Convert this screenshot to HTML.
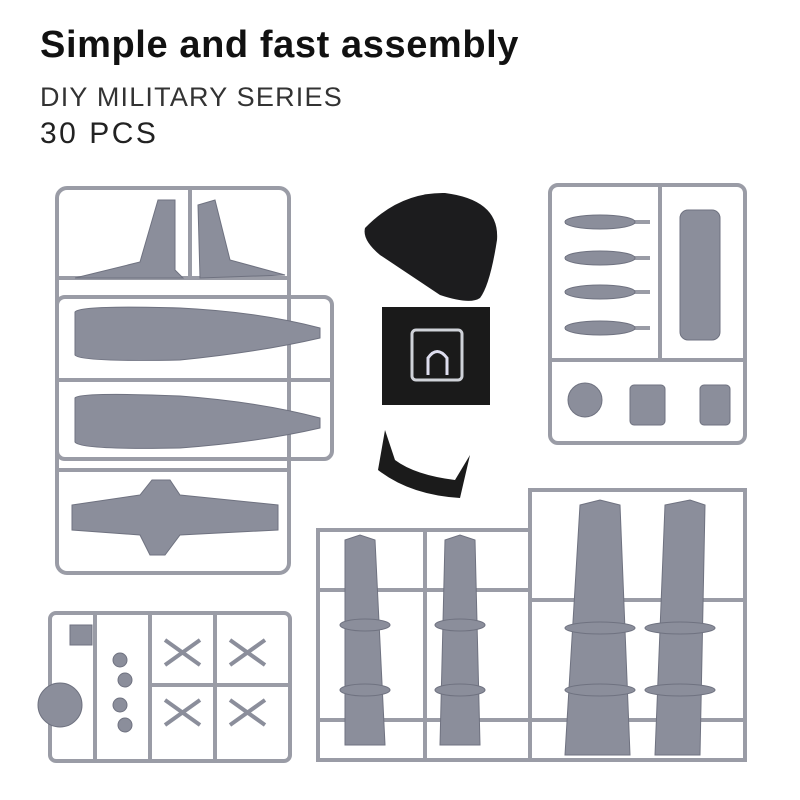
<!DOCTYPE html>
<html><head><meta charset="utf-8"><style>
body{margin:0;background:#fff;width:800px;height:800px;overflow:hidden;position:relative;font-family:"Liberation Sans",sans-serif}
.t1{position:absolute;left:40px;top:24px;font-size:38px;font-weight:bold;color:#111;letter-spacing:0.6px}
.t2{position:absolute;left:40px;top:82px;font-size:27px;color:#333;letter-spacing:1.2px}
.t3{position:absolute;left:40px;top:117px;font-size:30px;color:#222;letter-spacing:2.5px}
svg{position:absolute;left:0;top:0}
</style></head><body>
<div class="t1">Simple and fast assembly</div>
<div class="t2">DIY MILITARY SERIES</div>
<div class="t3">30 PCS</div>
<svg width="800" height="800" viewBox="0 0 800 800">
<g fill="none" stroke="#9a9ca6" stroke-width="4">
<rect x="57" y="188" width="232" height="385" rx="10"/>
<rect x="57" y="297" width="275" height="162" rx="8"/>
<line x1="57" y1="380" x2="330" y2="380"/>
<line x1="57" y1="278" x2="289" y2="278"/>
<line x1="57" y1="470" x2="289" y2="470"/>
<line x1="190" y1="188" x2="190" y2="278"/>
<rect x="550" y="185" width="195" height="258" rx="8"/>
<line x1="550" y1="360" x2="745" y2="360"/>
<line x1="660" y1="185" x2="660" y2="360"/>
<line x1="565" y1="222" x2="650" y2="222"/><line x1="565" y1="258" x2="650" y2="258"/>
<line x1="565" y1="292" x2="650" y2="292"/><line x1="565" y1="328" x2="650" y2="328"/>
<rect x="50" y="613" width="240" height="148" rx="6"/>
<line x1="150" y1="613" x2="150" y2="761"/><line x1="215" y1="613" x2="215" y2="761"/>
<line x1="95" y1="613" x2="95" y2="761"/><line x1="150" y1="685" x2="290" y2="685"/>
<path d="M318 530 H530 V490 H745 V760 H318 Z"/>
<line x1="425" y1="530" x2="425" y2="760"/><line x1="530" y1="490" x2="530" y2="760"/>
<line x1="318" y1="590" x2="530" y2="590"/><line x1="530" y1="600" x2="745" y2="600"/>
<line x1="318" y1="720" x2="745" y2="720"/>
</g>
<g fill="#8b8e9b" stroke="#6f7280" stroke-width="1">
<path d="M75 278 L140 262 L158 200 L175 200 L175 270 L183 278 Z"/>
<path d="M198 205 L215 200 L230 260 L285 275 L200 278 Z"/>
<path d="M75 312 Q80 305 180 308 Q260 312 320 328 L320 338 Q260 352 180 360 Q80 362 75 355 Z"/>
<path d="M75 398 Q80 392 180 396 Q260 402 320 418 L320 428 Q260 442 180 448 Q80 450 75 442 Z"/>
<path d="M72 505 L140 495 L152 480 L170 480 L180 495 L278 505 L278 530 L180 535 L165 555 L150 555 L140 535 L72 530 Z"/>
<ellipse cx="600" cy="222" rx="35" ry="7"/><ellipse cx="600" cy="258" rx="35" ry="7"/>
<ellipse cx="600" cy="292" rx="35" ry="7"/><ellipse cx="600" cy="328" rx="35" ry="7"/>
<rect x="680" y="210" width="40" height="130" rx="8"/>
<circle cx="585" cy="400" r="17"/>
<rect x="630" y="385" width="35" height="40" rx="4"/><rect x="700" y="385" width="30" height="40" rx="4"/>
<path d="M345 540 L360 535 L375 540 L385 745 L345 745 Z"/>
<path d="M445 540 L460 535 L475 540 L480 745 L440 745 Z"/>
<path d="M580 505 L600 500 L620 505 L630 755 L565 755 Z"/>
<path d="M665 505 L690 500 L705 505 L700 755 L655 755 Z"/>
<ellipse cx="365" cy="625" rx="25" ry="6"/><ellipse cx="365" cy="690" rx="25" ry="6"/>
<ellipse cx="460" cy="625" rx="25" ry="6"/><ellipse cx="460" cy="690" rx="25" ry="6"/>
<ellipse cx="600" cy="628" rx="35" ry="6"/><ellipse cx="600" cy="690" rx="35" ry="6"/>
<ellipse cx="680" cy="628" rx="35" ry="6"/><ellipse cx="680" cy="690" rx="35" ry="6"/>
<circle cx="60" cy="705" r="22"/>
<circle cx="120" cy="660" r="7"/><circle cx="125" cy="680" r="7"/><circle cx="120" cy="705" r="7"/><circle cx="125" cy="725" r="7"/>
<rect x="70" y="625" width="22" height="20"/>
</g>
<g stroke="#8b8e9b" stroke-width="4">
<path d="M165 640 L200 665 M200 640 L165 665 M230 640 L265 665 M265 640 L230 665 M165 700 L200 725 M200 700 L165 725 M230 700 L265 725 M265 700 L230 725"/>
</g>
<path d="M365 228 Q400 192 445 193 Q500 200 497 240 Q490 285 480 298 Q470 305 440 295 L380 255 Q362 240 365 228 Z" fill="#1c1c1e"/>
<rect x="382" y="307" width="108" height="98" fill="#1a1a1a"/>
<rect x="412" y="330" width="50" height="50" rx="4" fill="none" stroke="#cfd2d8" stroke-width="3"/>
<path d="M428 375 V358 Q437 345 447 358 V375" fill="none" stroke="#dde" stroke-width="3"/>
<path d="M385 430 L378 470 Q410 495 460 498 L470 455 L455 480 Q415 475 395 460 Z" fill="#1b1b1b"/>
</svg>
</body></html>
